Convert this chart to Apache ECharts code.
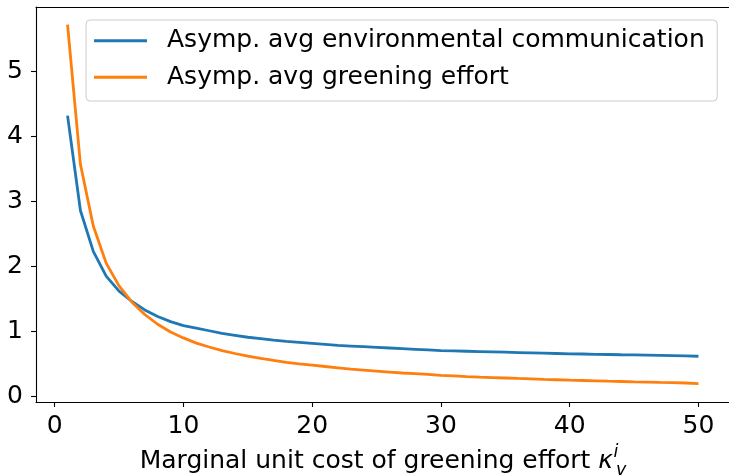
<!DOCTYPE html>
<html>
<head>
<meta charset="utf-8">
<script src="https://cdn.jsdelivr.net/npm/echarts@6/dist/echarts.min.js"></script>
<style>html,body{margin:0;padding:0;background:#fff}#c{width:729px;height:476px}</style>
</head>
<body>
<div id="c"></div>
<script>
const kappa = [1,2,3,4,5,6,7,8,9,10,11,12,13,14,15,16,17,18,19,20,21,22,23,24,25,26,27,28,29,30,31,32,33,34,35,36,37,38,39,40,41,42,43,44,45,46,47,48,49,50];
const communication = [4.32,2.86,2.23,1.85,1.62,1.46,1.33,1.23,1.15,1.09,1.05,1.01,0.97,0.94,0.91,0.89,0.865,0.845,0.83,0.815,0.80,0.785,0.775,0.765,0.755,0.745,0.735,0.725,0.715,0.705,0.70,0.695,0.69,0.685,0.68,0.675,0.67,0.665,0.66,0.655,0.652,0.648,0.645,0.641,0.638,0.634,0.63,0.626,0.622,0.618];
const greening = [5.72,3.57,2.62,2.05,1.70,1.45,1.26,1.11,0.99,0.90,0.82,0.76,0.705,0.66,0.62,0.585,0.555,0.525,0.50,0.48,0.46,0.44,0.42,0.405,0.39,0.375,0.36,0.35,0.34,0.325,0.315,0.305,0.297,0.29,0.283,0.276,0.27,0.262,0.256,0.25,0.245,0.24,0.234,0.229,0.224,0.22,0.215,0.211,0.206,0.197];
const xTicks = [0,10,20,30,40,50];
const yTicks = [0,1,2,3,4,5];
const seriesNames = ['Asymp. avg environmental communication','Asymp. avg greening effort'];

const FONT = '"DejaVu Sans"';
const FS = 25;
const SFS = 17.5;
const X_MIN = -1.45, X_MAX = 52.45;
const chart = echarts.init(document.getElementById('c'), null, {renderer:'canvas'});
const toPairs = arr => kappa.map((k,i)=>[k, arr[i]]);
chart.setOption({
  animation:false,
  backgroundColor:'#fff',
  textStyle:{fontFamily:FONT},
  grid:{left:36, top:7, right:-1, bottom:74, outerBoundsMode:'none', containLabel:false, show:false},
  legend:{
    orient:'vertical', left:86, top:20,
    padding:[8.2,12.5,11.2,8],
    icon:'rect',
    itemWidth:53, itemHeight:3, itemGap:11.6,
    borderColor:'#cccccc', borderWidth:1, borderRadius:4,
    backgroundColor:'rgba(255,255,255,0.8)',
    textStyle:{fontFamily:FONT, fontSize:FS, color:'#000', lineHeight:25, padding:[0,0,0,15]},
    data:seriesNames
  },
  xAxis:[{
    type:'value', min:X_MIN, max:X_MAX,
    axisLine:{show:true, onZero:false, lineStyle:{color:'#000', width:1.1}},
    axisTick:{show:true, length:5, customValues:xTicks, lineStyle:{color:'#000', width:1.1}},
    axisLabel:{customValues:xTicks, fontFamily:FONT, fontSize:FS, color:'#000', margin:12},
    splitLine:{show:false},
    name:'Marginal unit cost of greening effort {k|κ}{i|i}{v|v}',
    nameLocation:'middle', nameGap:40,
    nameTextStyle:{fontFamily:FONT, fontSize:FS, color:'#000', lineHeight:36,
      rich:{
        k:{fontFamily:FONT, fontSize:FS, fontStyle:'italic', color:'#000', lineHeight:36},
        i:{fontFamily:FONT, fontSize:SFS, fontStyle:'italic', color:'#000', width:0, verticalAlign:'top', lineHeight:36, padding:[0,0,0,3]},
        v:{fontFamily:FONT, fontSize:SFS, fontStyle:'italic', color:'#000', verticalAlign:'bottom', lineHeight:36}
      }}
  },{
    type:'value', position:'top', min:X_MIN, max:X_MAX,
    axisLine:{show:true, onZero:false, lineStyle:{color:'#000', width:1.1}},
    axisTick:{show:false}, axisLabel:{show:false}, splitLine:{show:false}
  }],
  yAxis:{
    type:'value', min:-0.086, max:5.99,
    axisLine:{show:true, onZero:false, lineStyle:{color:'#000', width:1.1}},
    axisTick:{show:true, length:5, customValues:yTicks, lineStyle:{color:'#000', width:1.1}},
    axisLabel:{customValues:yTicks, fontFamily:FONT, fontSize:FS, color:'#000', margin:13},
    splitLine:{show:false}
  },
  series:[
    {name:seriesNames[0], type:'line', xAxisIndex:0, data:toPairs(communication), symbol:'none', smooth:false,
     lineStyle:{color:'#1f77b4', width:2.8}, itemStyle:{color:'#1f77b4'}},
    {name:seriesNames[1], type:'line', xAxisIndex:0, data:toPairs(greening), symbol:'none', smooth:false,
     lineStyle:{color:'#ff7f0e', width:2.8}, itemStyle:{color:'#ff7f0e'}}
  ]
});
</script>
</body>
</html>
